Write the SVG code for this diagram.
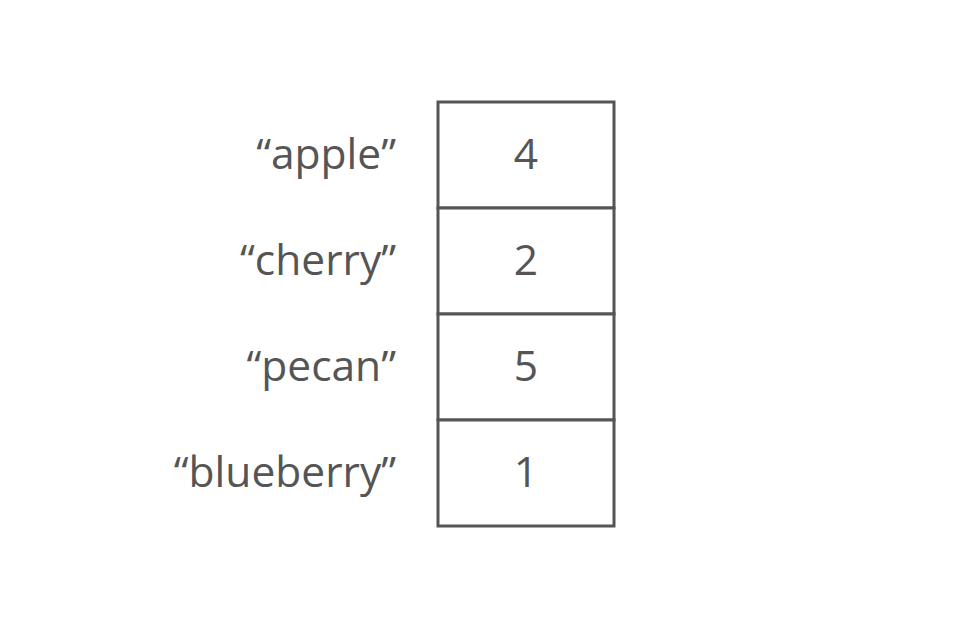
<svg xmlns="http://www.w3.org/2000/svg" width="968" height="623" viewBox="0 0 968 623">
<style>
.cell{fill:#fff;stroke:#555;stroke-width:3}
.t{font-family:"Open Sans","Liberation Sans",sans-serif;font-size:42.5px;fill:#555}
.k{text-anchor:end}
.v{text-anchor:middle}
</style>
<rect width="968" height="623" fill="#fff"/>
<g id="row-apple">
<rect class="cell" x="438" y="102" width="176" height="106"/>
<text class="t k" x="396" y="169">“apple”</text>
<text class="t v" x="526" y="169">4</text>
</g>
<g id="row-cherry">
<rect class="cell" x="438" y="208" width="176" height="106"/>
<text class="t k" x="396" y="275">“cherry”</text>
<text class="t v" x="526" y="275">2</text>
</g>
<g id="row-pecan">
<rect class="cell" x="438" y="314" width="176" height="106"/>
<text class="t k" x="396" y="381">“pecan”</text>
<text class="t v" x="526" y="381">5</text>
</g>
<g id="row-blueberry">
<rect class="cell" x="438" y="420" width="176" height="106"/>
<text class="t k" x="396" y="487">“blueberry”</text>
<text class="t v" x="526" y="487">1</text>
</g>
<g id="connectors"/>
</svg>
